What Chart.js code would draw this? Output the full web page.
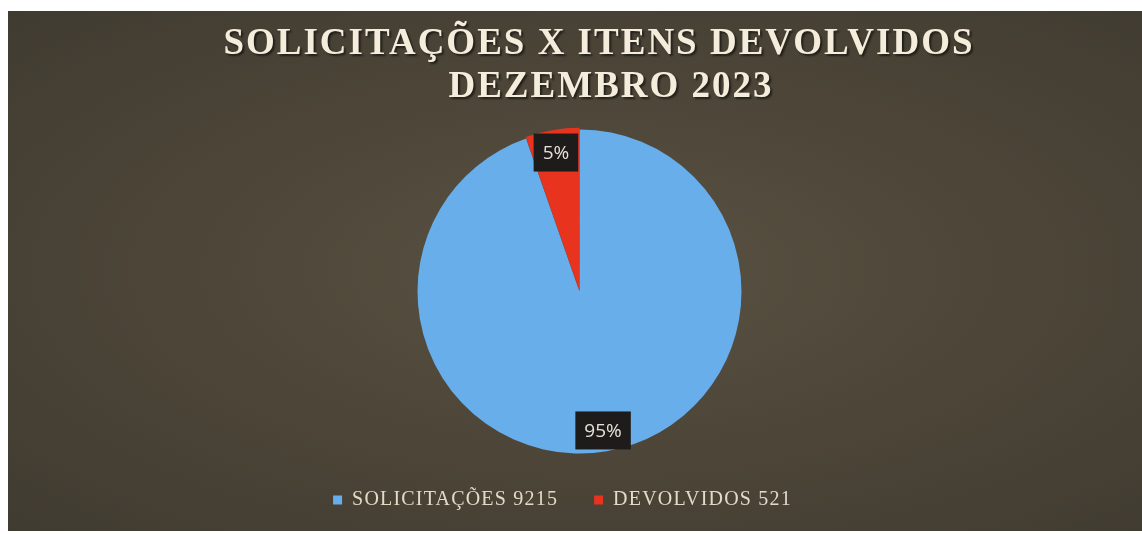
<!DOCTYPE html>
<html>
<head>
<meta charset="utf-8">
<script src="https://cdn.jsdelivr.net/npm/chart.js@4.4.1/dist/chart.umd.min.js"></script>
<style>
  html, body { margin: 0; padding: 0; background: #fff; }
  #wrap {
    position: absolute; left: 8px; top: 11px; width: 1134px; height: 520px;
    background: radial-gradient(ellipse at 52% 50%, #5a5142 0%, #4e4739 45%, #403b31 100%);
  }
  canvas { display: block; }
</style>
</head>
<body>
<div id="wrap"><canvas id="pieChart"></canvas></div>
<script>
const categories = ['SOLICITAÇÕES', 'DEVOLVIDOS'];
const values = [9215, 521];
const sliceColors = ['#67aeea', '#e8331f'];
const titleLines = ['SOLICITAÇÕES X ITENS DEVOLVIDOS', 'DEZEMBRO 2023'];

// titulo com espaçamento entre letras
const titlePlugin = {
  id: 'bigTitle',
  afterDraw(chart) {
    const ctx = chart.ctx;
    ctx.save();
    ctx.font = 'bold 37px "Liberation Serif"';
    ctx.letterSpacing = '2px';
    ctx.textAlign = 'center';
    ctx.textBaseline = 'alphabetic';
    ctx.fillStyle = '#f4eddc';
    ctx.shadowColor = 'rgba(0,0,0,0.55)';
    ctx.shadowOffsetX = 2;
    ctx.shadowOffsetY = 2;
    ctx.shadowBlur = 2;
    ctx.fillText(titleLines[0], 591, 43);
    ctx.fillText(titleLines[1], 603, 86);
    ctx.restore();
  }
};

// espaçamento das letras da legenda (medida e desenho) + deslocamento à esquerda
const legendSpacing = {
  id: 'legendSpacing',
  beforeLayout(chart) { chart.ctx.letterSpacing = '1.2px'; },
  afterLayout(chart) {
    chart.ctx.letterSpacing = '0px';
    chart.legend.left -= 17;
    chart.legend.right -= 17;
  },
  beforeDraw(chart) { chart.ctx.letterSpacing = '1.2px'; },
  beforeDatasetsDraw(chart) { chart.ctx.letterSpacing = '0px'; }
};

// rótulos de porcentagem em caixa escura
const pctPlugin = {
  id: 'pctLabels',
  afterDatasetsDraw(chart) {
    const ctx = chart.ctx;
    const meta = chart.getDatasetMeta(0);
    const total = values.reduce((a, b) => a + b, 0);
    ctx.save();
    ctx.font = '19px "Open Sans"';
    ctx.textAlign = 'center';
    ctx.textBaseline = 'middle';
    meta.data.forEach((arc, i) => {
      const p = arc.getProps(['x', 'y', 'startAngle', 'endAngle', 'outerRadius'], true);
      const mid = (p.startAngle + p.endAngle) / 2;
      const r = p.outerRadius * 0.87;
      const x = p.x + Math.cos(mid) * r;
      const y = p.y + Math.sin(mid) * r;
      const txt = Math.round(values[i] / total * 100) + '%';
      const w = ctx.measureText(txt).width + 18;
      const h = 38;
      ctx.fillStyle = '#1d1c1a';
      ctx.fillRect(x - w / 2, y - h / 2, w, h);
      ctx.fillStyle = '#e6e2d8';
      ctx.fillText(txt, x, y + 1);
    });
    ctx.restore();
  }
};

const ctx = document.getElementById('pieChart').getContext('2d');
new Chart(ctx, {
  type: 'pie',
  data: {
    labels: categories,
    datasets: [{
      data: values,
      backgroundColor: sliceColors,
      borderWidth: 0,
      offset: [0, 4],
      radius: 162
    }]
  },
  options: {
    responsive: true,
    maintainAspectRatio: false,
    animation: false,
    layout: { padding: { top: 118, bottom: 11, left: 9, right: 0 } },
    plugins: {
      tooltip: { enabled: false },
      title: { display: false },
      legend: {
        position: 'bottom',
        labels: {
          font: { family: '"Liberation Serif"', size: 20 },
          color: '#e4dac8',
          boxWidth: 9,
          boxHeight: 9,
          padding: 36,
          generateLabels(chart) {
            const items = Chart.overrides.pie.plugins.legend.labels.generateLabels(chart);
            items.forEach((it, i) => { it.text = categories[i] + ' ' + values[i]; it.lineWidth = 0; });
            return items;
          }
        }
      }
    }
  },
  plugins: [legendSpacing, titlePlugin, pctPlugin]
});
</script>
</body>
</html>
